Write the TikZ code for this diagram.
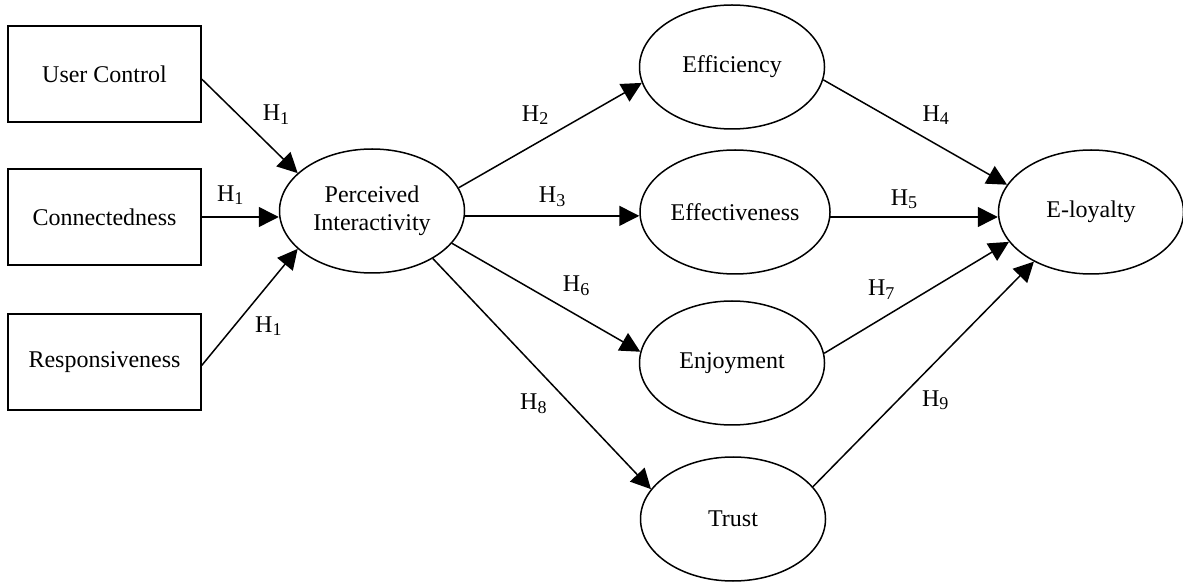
\documentclass[tikz,border=0pt]{standalone}
\usepackage{fontspec}
\setmainfont{Liberation Serif}
\usetikzlibrary{shapes.geometric, arrows.meta}

\newcommand{\hsub}[1]{H\raisebox{-1.7pt}{\fontsize{9}{9}\selectfont #1}}

\begin{document}
\begin{tikzpicture}[
    x=0.5pt, y=-0.5pt,
    font=\fontsize{12}{14}\selectfont,
    line width=0.75pt,
    >={Triangle[length=10pt, width=10pt]},
    construct/.style={rectangle, draw=black, minimum width=96.5pt, minimum height=48pt, align=center},
    latent/.style={ellipse, draw=black, inner sep=0pt, minimum width=92.5pt, minimum height=62pt, align=center}
]
    \useasboundingbox (0,0) rectangle (1183,582);
    \node[construct] (uc) at (104.5,74) {User Control};
    \node[construct] (conn) at (104.5,217) {Connectedness};
    \node[construct] (resp) at (104.5,362) {Responsiveness};
    \node[latent] (pi) at (372,211) {Perceived\\Interactivity};
    \node[latent] (eff) at (732,67) {Efficiency};
    \node[latent, minimum width=95pt] (effv) at (735,212) {Effectiveness};
    \node[latent] (enj) at (732,363) {Enjoyment};
    \node[latent] (trust) at (733,519) {Trust};
    \node[latent] (eloy) at (1091,212) {E-loyalty};
    \draw[->] (uc.-3) -- node[pos=0.56, above right] (h1a) {\hsub{1}} (pi.153);
    \draw[->] (conn.east) -- node[pos=0.37, above=2.5pt] (h1b) {\hsub{1}} (conn.east -| pi.west);
    \draw[->] (resp.-2) -- node[pos=0.48, below right] (h1c) {\hsub{1}} (pi.207);
    \draw[->] (pi.15) -- node[pos=0.53, above left] (h2) {\hsub{2}} (eff.190);
    \draw[->] (pi.-3) -- node[pos=0.5, above=1pt] (h3) {\hsub{3}} (pi.-3 -| effv.west);
    \draw[->] (pi.-22) -- node[pos=0.55, above right] (h6) {\hsub{6}} (enj.173);
    \draw[->] (pi.-38) -- node[pos=0.555, below left] (h8) {\hsub{8}} (trust.160);
    \draw[->] (eff.-8) -- node[pos=0.50, above right] (h4) {\hsub{4}} (eloy.162);
    \draw[->] (effv.-3) -- node[pos=0.44, above=0.5pt] (h5) {\hsub{5}} (effv.-3 -| eloy.west);
    \draw[->] (enj.6) -- node[pos=0.42, above left] (h7) {\hsub{7}} (eloy.200);
    \draw[->] (trust.22) -- node[pos=0.46, below right] (h9) {\hsub{9}} (eloy.221);
\end{tikzpicture}
\end{document}
